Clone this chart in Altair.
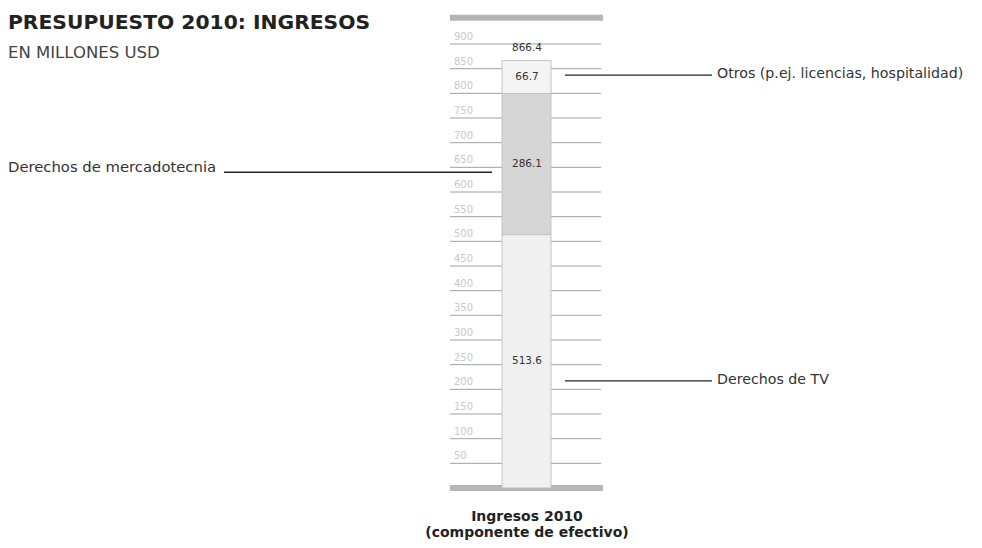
import altair as alt
import pandas as pd

# ---- data ----
segments = ["Derechos de TV", "Derechos de mercadotecnia", "Otros (p.ej. licencias, hospitalidad)"]
seg_values = [513.6, 286.1, 66.7]
seg_colors = ["#f0f0f0", "#d5d5d5", "#f4f4f4"]
seg_labels = ["513.6", "286.1", "66.7"]
total_value = 866.4
total_label = "866.4"
tick_values = [50, 100, 150, 200, 250, 300, 350, 400, 450, 500, 550, 600, 650, 700, 750, 800, 850, 900]
anno_texts = ["Derechos de TV", "Derechos de mercadotecnia", "Otros (p.ej. licencias, hospitalidad)"]
anno_y = [217, 640, 837]
anno_side = ["right", "left", "right"]
title_text = "PRESUPUESTO 2010: INGRESOS"
subtitle_text = "EN MILLONES USD"
xtitle_line1 = "Ingresos 2010"
xtitle_line2 = "(componente de efectivo)"
frame_values = [0, 953]

FONT = "DejaVu Sans"

# build tables
starts, ends, cum = [], [], 0.0
for v in seg_values:
    starts.append(cum)
    cum += v
    ends.append(cum)
seg_df = pd.DataFrame({
    "seg": segments, "start": starts, "end": ends,
    "mid": [(s + e) / 2 for s, e in zip(starts, ends)],
    "label": seg_labels, "color": seg_colors,
})
tick_df = pd.DataFrame({"v": tick_values, "lab": [str(t) for t in tick_values]})
anno_df = pd.DataFrame({"text": anno_texts, "y": anno_y, "side": anno_side})
total_df = pd.DataFrame({"v": [total_value], "lab": [total_label]})
frame_df = pd.DataFrame({"v": frame_values})

yscale = alt.Scale(domain=[0, 900], range=[480, 36])
Y = lambda f: alt.Y(f, type="quantitative", scale=yscale, axis=None)

frame = alt.Chart(frame_df).mark_rule(color="#b5b5b5", strokeWidth=6).encode(
    y=Y("v"), x=alt.value(442), x2=alt.value(595)
)
grid = alt.Chart(tick_df).mark_rule(color="#a0a0a0", strokeWidth=1).encode(
    y=Y("v"), x=alt.value(442), x2=alt.value(593)
)
tick_text = alt.Chart(tick_df).mark_text(
    align="left", baseline="bottom", dy=-2, fontSize=10, color="#c8c8c8", font=FONT
).encode(y=Y("v"), x=alt.value(446), text="lab")

bars = alt.Chart(seg_df).mark_bar(stroke="#c4c4c4", strokeWidth=1).encode(
    y=Y("start"), y2="end", x=alt.value(494), x2=alt.value(543),
    color=alt.Color("color:N", scale=None),
)
bar_text = alt.Chart(seg_df).mark_text(
    align="center", baseline="middle", fontSize=10.5, color="#333333", font=FONT
).encode(y=Y("mid"), x=alt.value(519), text="label")
total_text = alt.Chart(total_df).mark_text(
    align="center", baseline="middle", dy=-13, fontSize=10.5, color="#333333", font=FONT
).encode(y=Y("v"), x=alt.value(519), text="lab")

right_df = anno_df[anno_df.side == "right"]
left_df = anno_df[anno_df.side == "left"]
anno_lines_r = alt.Chart(right_df).mark_rule(color="#222222", strokeWidth=1.3).encode(
    y=Y("y"), x=alt.value(557), x2=alt.value(704)
)
anno_text_r = alt.Chart(right_df).mark_text(
    align="left", baseline="alphabetic", dy=3, fontSize=14.2, color="#333333", font=FONT
).encode(y=Y("y"), x=alt.value(709), text="text")
anno_lines_l = alt.Chart(left_df).mark_rule(color="#222222", strokeWidth=1.3).encode(
    y=Y("y"), x=alt.value(216), x2=alt.value(484)
)
anno_text_l = alt.Chart(left_df).mark_text(
    align="left", baseline="alphabetic", dy=0, fontSize=14.8, color="#333333", font=FONT
).encode(y=Y("y"), x=alt.value(0), text="text")

title = alt.Chart(pd.DataFrame({"t": [title_text]})).mark_text(
    align="left", baseline="alphabetic", fontSize=20.3, fontWeight="bold", color="#222222", font=FONT
).encode(x=alt.value(0), y=alt.value(21), text="t")
subtitle = alt.Chart(pd.DataFrame({"t": [subtitle_text]})).mark_text(
    align="left", baseline="alphabetic", fontSize=16.5, color="#444444", font=FONT
).encode(x=alt.value(0), y=alt.value(49.5), text="t")
xtitle1 = alt.Chart(pd.DataFrame({"t": [xtitle_line1]})).mark_text(
    align="center", baseline="middle", fontSize=14, fontWeight="bold", color="#222222", font=FONT
).encode(x=alt.value(519), y=alt.value(509), text="t")
xtitle2 = alt.Chart(pd.DataFrame({"t": [xtitle_line2]})).mark_text(
    align="center", baseline="middle", fontSize=14, fontWeight="bold", color="#222222", font=FONT
).encode(x=alt.value(519), y=alt.value(525), text="t")

chart = alt.layer(
    frame, grid, tick_text, bars, bar_text, total_text,
    anno_lines_r, anno_text_r, anno_lines_l, anno_text_l,
    title, subtitle, xtitle1, xtitle2,
).properties(
    width=966, height=532, padding=0, background="white",
    autosize=alt.AutoSizeParams(type="none"),
).configure_view(strokeWidth=0)

chart.save("out.html", embed_options={"renderer": "svg", "actions": False})
